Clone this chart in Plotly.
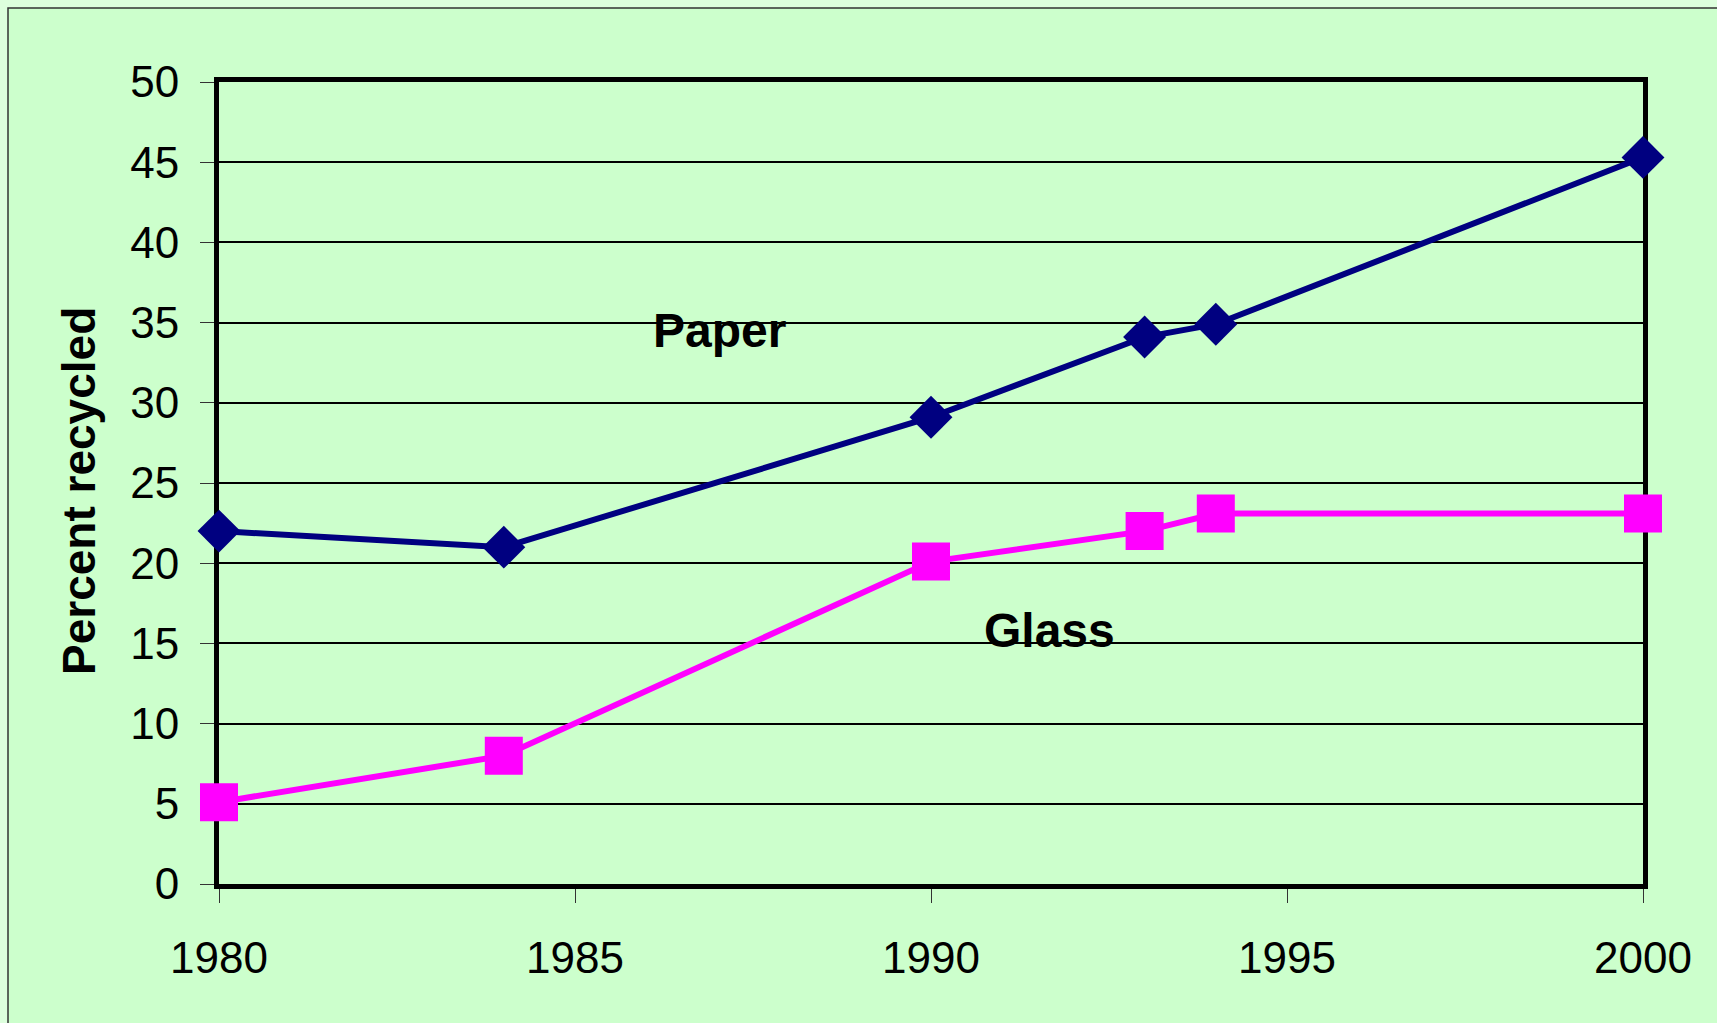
import plotly.graph_objects as go

# Recycling rates by year (percent)
years = [1980, 1984, 1990, 1993, 1994, 2000]
paper = [22.0, 21.0, 29.1, 34.1, 34.9, 45.3]
glass = [5.1, 8.0, 20.1, 22.0, 23.1, 23.1]

x_ticks = [1980, 1985, 1990, 1995, 2000]
y_ticks = [0, 5, 10, 15, 20, 25, 30, 35, 40, 45, 50]

W, H = 1717, 1023
L, R, T, B = 219, 74, 82, 139
pw, ph = W - L - R, H - T - B


def px_x(p):
    return (p - L) / pw


def px_y(p):
    return (H - B - p) / ph


FONT = "Liberation Sans, Arial, sans-serif"

fig = go.Figure()
fig.add_trace(go.Scatter(
    x=years, y=paper, mode="lines+markers", name="Paper",
    line=dict(color="#000080", width=6),
    marker=dict(symbol="diamond", size=33, color="#000080"),
    cliponaxis=False,
))
fig.add_trace(go.Scatter(
    x=years, y=glass, mode="lines+markers", name="Glass",
    line=dict(color="#FF00FF", width=6),
    marker=dict(symbol="square", size=38, color="#FF00FF"),
    cliponaxis=False,
))

# Series labels placed inside the plot
fig.add_annotation(x=1987.03, y=34.5, text="<b>Paper</b>", showarrow=False,
                   font=dict(family=FONT, size=48, color="black"))
fig.add_annotation(x=1991.67, y=15.8, text="<b>Glass</b>", showarrow=False,
                   font=dict(family=FONT, size=48, color="black"))

# Y axis title
fig.add_annotation(xref="paper", yref="paper", x=px_x(79), y=px_y(491),
                   xanchor="center", yanchor="middle",
                   text="<b>Percent recycled</b>", textangle=-90, showarrow=False,
                   font=dict(family=FONT, size=46, color="black"))

# Framed chart area
fig.add_shape(type="rect", xref="paper", yref="paper",
              x0=px_x(8), y0=px_y(1100), x1=px_x(1800), y1=px_y(8),
              fillcolor="#CCFFCC", line=dict(color="#333333", width=1.5),
              layer="below")

fig.update_xaxes(
    range=[1980, 2000], tickvals=x_ticks, ticktext=[str(v) for v in x_ticks],
    showgrid=False, zeroline=False,
    showline=True, linecolor="black", linewidth=5, mirror=True,
    ticks="outside", ticklen=14, tickwidth=1, tickcolor="#333333",
    tickfont=dict(family=FONT, size=44, color="black"),
    ticklabelstandoff=17, layer="below traces",
)
fig.update_yaxes(
    range=[0, 50], tickvals=y_ticks,
    showgrid=True, gridcolor="black", gridwidth=2.2, zeroline=False,
    showline=True, linecolor="black", linewidth=5, mirror=True,
    ticks="outside", ticklen=14, tickwidth=1, tickcolor="#333333",
    tickfont=dict(family=FONT, size=44, color="black"),
    ticklabelstandoff=12, layer="below traces",
)

fig.update_layout(
    width=W, height=H,
    margin=dict(l=L, r=R, t=T, b=B, pad=0),
    paper_bgcolor="#DDFFDD", plot_bgcolor="#CCFFCC",
    showlegend=False,
    font=dict(family=FONT, color="black"),
)

fig.write_html("out.html")
